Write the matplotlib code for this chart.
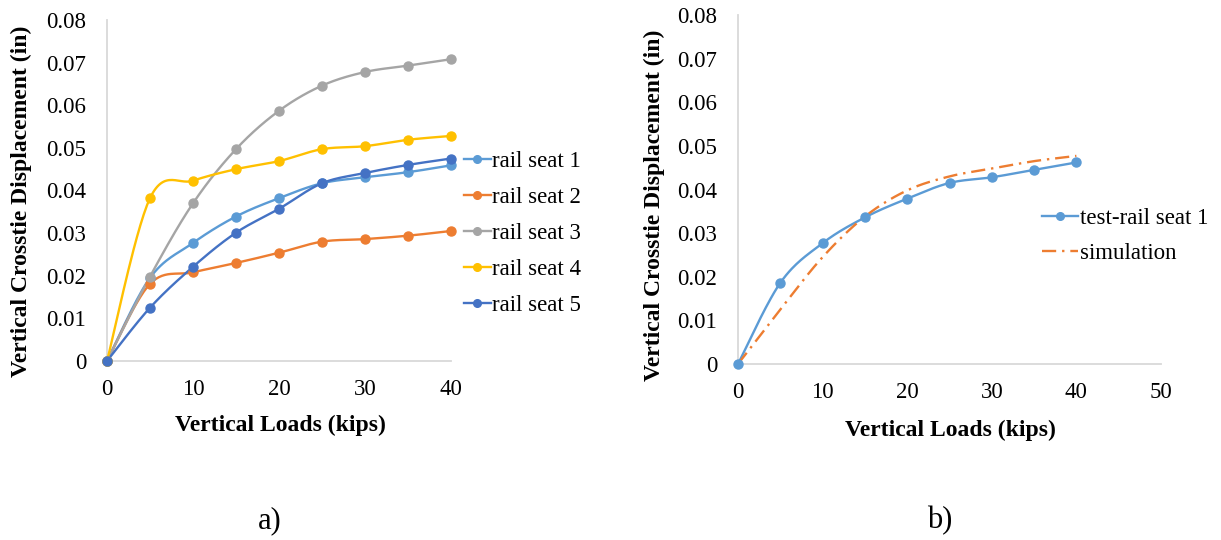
import numpy as np
import matplotlib
matplotlib.use("Agg")
import matplotlib.pyplot as plt
from matplotlib.lines import Line2D

# ---------------- data ----------------
loads = [0, 5, 10, 15, 20, 25, 30, 35, 40]
rail_seat_1 = [0, 0.0195, 0.0277, 0.0339, 0.0382, 0.0417, 0.0431, 0.0443, 0.0459]
rail_seat_2 = [0, 0.0181, 0.0208, 0.0230, 0.0254, 0.0280, 0.0286, 0.0294, 0.0305]
rail_seat_3 = [0, 0.0198, 0.0370, 0.0497, 0.0587, 0.0646, 0.0678, 0.0693, 0.0708]
rail_seat_4 = [0, 0.0382, 0.0423, 0.0450, 0.0469, 0.0497, 0.0504, 0.0519, 0.0528]
rail_seat_5 = [0, 0.0125, 0.0221, 0.0301, 0.0357, 0.0417, 0.0441, 0.0460, 0.0475]

test_rail_seat_1 = [0, 0.0186, 0.0277, 0.0336, 0.0379, 0.0415, 0.0428, 0.0445, 0.0462]
simulation = [0, 0.0125, 0.0245, 0.0338, 0.0398, 0.0430, 0.0448, 0.0465, 0.0477]

series_a = ["rail seat 1", "rail seat 2", "rail seat 3", "rail seat 4", "rail seat 5"]
colors_a = ["#5B9BD5", "#ED7D31", "#A5A5A5", "#FFC000", "#4472C4"]
values_a = [rail_seat_1, rail_seat_2, rail_seat_3, rail_seat_4, rail_seat_5]

yticks = [0, 0.01, 0.02, 0.03, 0.04, 0.05, 0.06, 0.07, 0.08]
ytick_labels = ["0", "0.01", "0.02", "0.03", "0.04", "0.05", "0.06", "0.07", "0.08"]
xticks_a = [0, 10, 20, 30, 40]
xticks_b = [0, 10, 20, 30, 40, 50]


def smooth(x, y, n=30):
    """Excel-style smoothed line (Catmull-Rom Bezier through the points)."""
    x = np.asarray(x, float)
    y = np.asarray(y, float)
    P = np.column_stack([x, y])
    out = [P[0]]
    m = len(P)
    t = np.linspace(0, 1, n)[1:]
    for i in range(m - 1):
        p0 = P[i - 1] if i > 0 else P[i]
        p1 = P[i]
        p2 = P[i + 1]
        p3 = P[i + 2] if i + 2 < m else P[i + 1]
        c1 = p1 + (p2 - p0) / 6.0
        c2 = p2 - (p3 - p1) / 6.0
        for tt in t:
            b = ((1 - tt) ** 3) * p1 + 3 * ((1 - tt) ** 2) * tt * c1 + 3 * (1 - tt) * tt ** 2 * c2 + tt ** 3 * p2
            out.append(b)
    out = np.array(out)
    return out[:, 0], out[:, 1]


serif = ["Liberation Serif", "DejaVu Serif"]
plt.rcParams["font.family"] = serif

W, H = 1221, 540
fig = plt.figure(figsize=(W / 100, H / 100), dpi=100)


def style_axes(ax, xmax, xticks):
    ax.set_xlim(0, xmax)
    ax.set_ylim(0, 0.08)
    ax.set_yticks(yticks)
    ax.set_yticklabels(ytick_labels)
    ax.set_xticks(xticks)
    ax.set_xticklabels([str(v) for v in xticks])
    for s in ["top", "right"]:
        ax.spines[s].set_visible(False)
    for s in ["left", "bottom"]:
        ax.spines[s].set_color("#D9D9D9")
        ax.spines[s].set_linewidth(1.3)
    ax.tick_params(axis="both", length=0, labelsize=16.5, colors="#000000")
    ax.tick_params(axis="x", pad=13)
    ax.tick_params(axis="y", pad=15)


MS = 6.5
LW = 1.7

# ---------------- a) ----------------
ax1 = fig.add_axes([107 / W, 1 - 361 / H, 344 / W, 341 / H])
style_axes(ax1, 40, xticks_a)
handles = []
for name, col, vals in zip(series_a, colors_a, values_a):
    sx, sy = smooth(loads, vals)
    ax1.plot(sx, sy, color=col, lw=LW, clip_on=False, zorder=3)
    ax1.plot(loads, vals, linestyle="none", marker="o", ms=MS, color=col, clip_on=False, zorder=4)
    handles.append(Line2D([], [], color=col, lw=LW, marker="o", ms=5.5, label=name))
ax1.set_ylabel("Vertical Crosstie Displacement (in)", fontsize=17, fontweight="bold")
ax1.yaxis.set_label_coords(-0.218, 0.469)
ax1.set_xlabel("Vertical Loads (kips)", fontsize=17, fontweight="bold")
ax1.xaxis.set_label_coords(0.503, -0.158)
leg1 = ax1.legend(handles=handles, loc="center left", bbox_to_anchor=(0.99, 0.374),
                  frameon=False, fontsize=16.5, handlelength=1.2, handletextpad=0.05,
                  labelspacing=0.66, borderaxespad=0.3)

# ---------------- b) ----------------
ax2 = fig.add_axes([738 / W, 1 - 364 / H, 423 / W, 349 / H])
style_axes(ax2, 50, xticks_b)
sx, sy = smooth(loads, test_rail_seat_1)
ax2.plot(sx, sy, color="#5B9BD5", lw=LW, clip_on=False, zorder=3)
ax2.plot(loads, test_rail_seat_1, linestyle="none", marker="o", ms=MS, color="#5B9BD5",
         clip_on=False, zorder=4)
sx, sy = smooth(loads, simulation)
ax2.plot(sx, sy, color="#ED7D31", lw=LW, dashes=[6, 2.5, 1, 2.5], clip_on=False, zorder=3)
h_b = [Line2D([], [], color="#5B9BD5", lw=LW, marker="o", ms=5.5, label="test-rail seat 1"),
       Line2D([], [], color="#ED7D31", lw=LW, dashes=[6, 2.5, 1, 2.5], label="simulation")]
ax2.set_ylabel("Vertical Crosstie Displacement (in)", fontsize=17, fontweight="bold")
ax2.yaxis.set_label_coords(-0.173, 0.456)
ax2.set_xlabel("Vertical Loads (kips)", fontsize=17, fontweight="bold")
ax2.xaxis.set_label_coords(0.503, -0.160)
leg2 = ax2.legend(handles=h_b, loc="center left", bbox_to_anchor=(0.698, 0.367),
                  frameon=False, fontsize=16.5, handlelength=1.55, handletextpad=0.1,
                  labelspacing=0.62, borderaxespad=0.0)

fig.text(270 / W, 1 - 521 / H, "a)", fontsize=22, ha="center", va="center")
fig.text(940 / W, 1 - 521 / H, "b)", fontsize=22, ha="center", va="center")

fig.savefig("out.png", dpi=100)
